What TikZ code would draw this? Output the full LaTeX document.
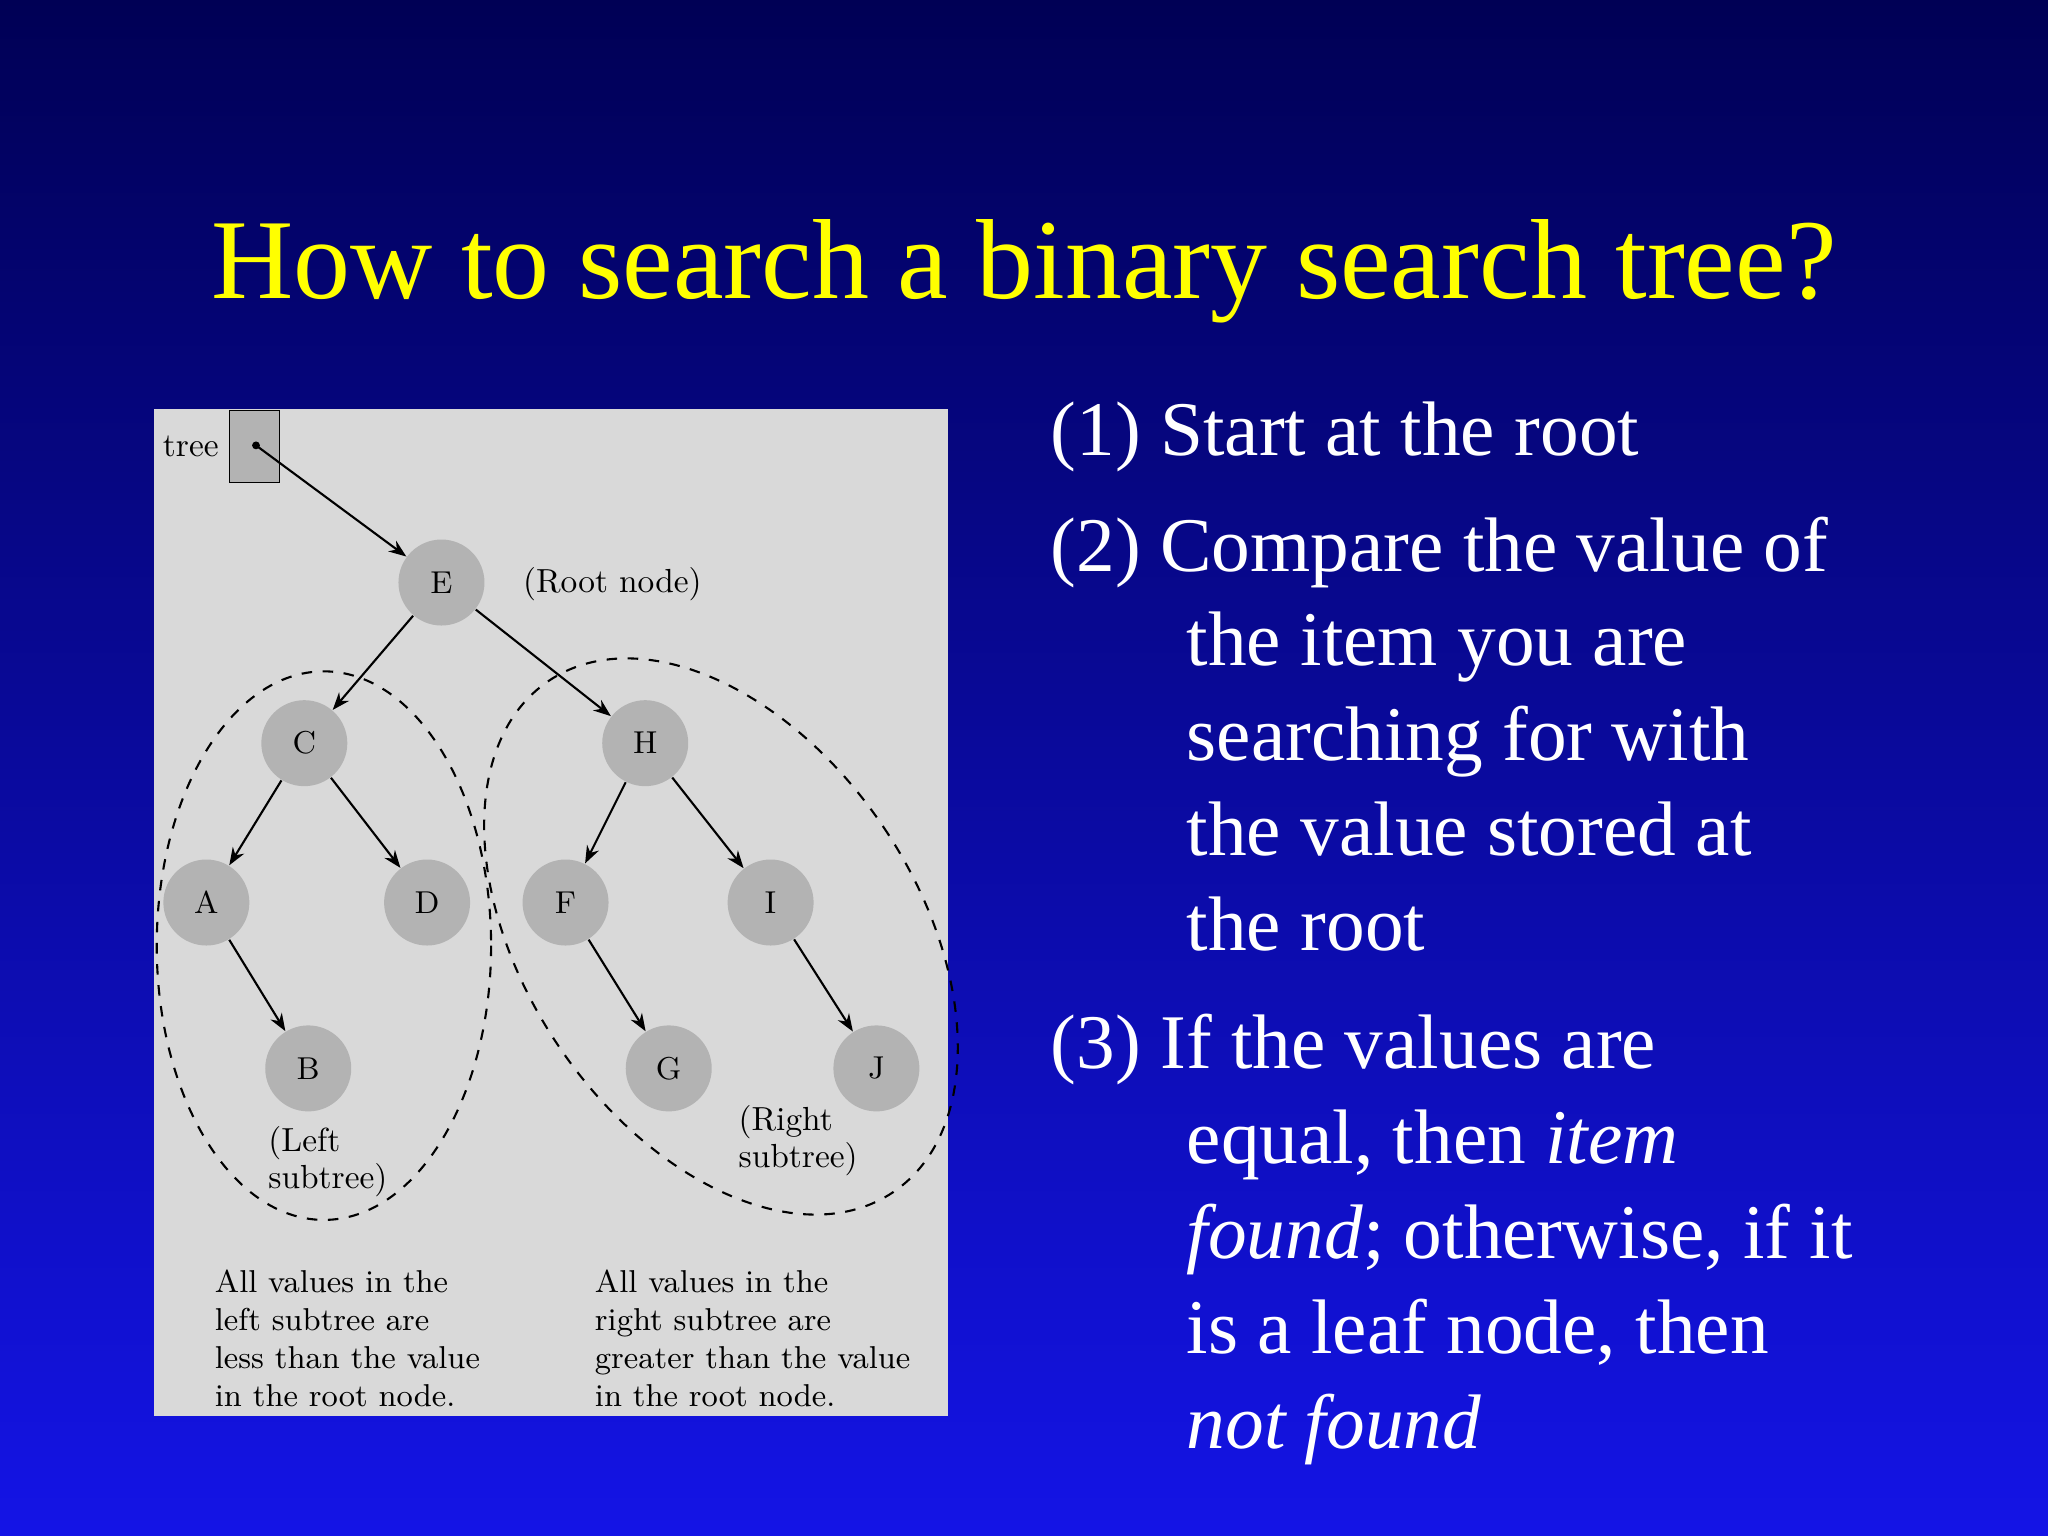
\documentclass[tikz,border=0pt]{standalone}
\usepackage{fontspec}
\setmainfont{Liberation Serif}
\usetikzlibrary{arrows.meta}
\definecolor{bgtop}{HTML}{000055}
\definecolor{bgbot}{HTML}{1414E6}
\definecolor{ttl}{HTML}{FFFF00}
\definecolor{panel}{HTML}{D9D9D9}
\definecolor{circ}{HTML}{B3B3B3}
\begin{document}
\begin{tikzpicture}[x=0.013061cm,y=-0.013061cm,
  tn/.style={circle,fill=circ,minimum size=0.86cm,inner sep=0pt,font=\fontfamily{lmr}\selectfont\small},
  ar/.style={-{Stealth[length=5pt]},line width=0.6pt},
  pt/.style={font=\fontfamily{lmr}\fontsize{9.5}{10.6}\selectfont,align=left,anchor=north west,inner sep=0pt},
  bt/.style={text=white,font=\fontsize{22}{27}\selectfont,anchor=north west,align=left}]
\shade[top color=bgtop,bottom color=bgbot] (0,0) rectangle (1568,1176);
\useasboundingbox (0,0) rectangle (1568,1176);
\node[text=ttl,font=\fontsize{32.4}{36}\selectfont] (title) at (784,208) {How to search a binary search tree?};
\fill[panel] (118,313) rectangle (726,1084);
\node[draw,fill=circ,minimum width=0.5cm,minimum height=0.72cm,inner sep=0pt] (tb) at (195,342) {};
\fill (196,341) circle (3);
\coordinate (dot) at (196,341);
\node[pt,anchor=east] (tl) at (168,342) {tree};
\node[tn] (E) at (338,446) {E};
\node[tn] (C) at (233,569) {C};
\node[tn] (H) at (494,569) {H};
\node[tn] (A) at (158,691) {A};
\node[tn] (D) at (327,691) {D};
\node[tn] (F) at (433,691) {F};
\node[tn] (I) at (590,691) {I};
\node[tn] (B) at (236,818) {B};
\node[tn] (G) at (512,818) {G};
\node[tn] (J) at (671,818) {J};
\draw[ar] (dot) -- (E);
\draw[ar] (E) -- (C); \draw[ar] (E) -- (H);
\draw[ar] (C) -- (A); \draw[ar] (C) -- (D);
\draw[ar] (H) -- (F); \draw[ar] (H) -- (I);
\draw[ar] (A) -- (B); \draw[ar] (F) -- (G); \draw[ar] (I) -- (J);
\draw[dashed,line width=0.6pt] (248,724) ellipse [x radius=128,y radius=210];
\draw[dashed,line width=0.6pt,rotate around={34:(552,717)}] (552,717) ellipse [x radius=150,y radius=236];
\node[pt] (rn) at (400,434) {(Root node)};
\node[pt] (ls) at (205,862) {(Left\\subtree)};
\node[pt] (rs) at (565,846) {(Right\\subtree)};
\node[pt,font=\fontfamily{lmr}\fontsize{9}{10.8}\selectfont] (lt) at (164,972) {All values in the\\left subtree are\\less than the value\\in the root node.};
\node[pt,font=\fontfamily{lmr}\fontsize{9}{10.8}\selectfont] (rt) at (455,972) {All values in the\\right subtree are\\greater than the value\\in the root node.};
\node[bt] (s1) at (795,298) {(1) Start at the root};
\node[bt] (s2) at (795,386) {(2) Compare the value of\\\hspace*{1.36cm}the item you are\\\hspace*{1.36cm}searching for with\\\hspace*{1.36cm}the value stored at\\\hspace*{1.36cm}the root};
\node[bt] (s3) at (795,767) {(3) If the values are\\\hspace*{1.36cm}equal, then \textit{item}\\\hspace*{1.36cm}\textit{found}; otherwise, if it\\\hspace*{1.36cm}is a leaf node, then\\\hspace*{1.36cm}\textit{not found}};
\end{tikzpicture}
\end{document}
